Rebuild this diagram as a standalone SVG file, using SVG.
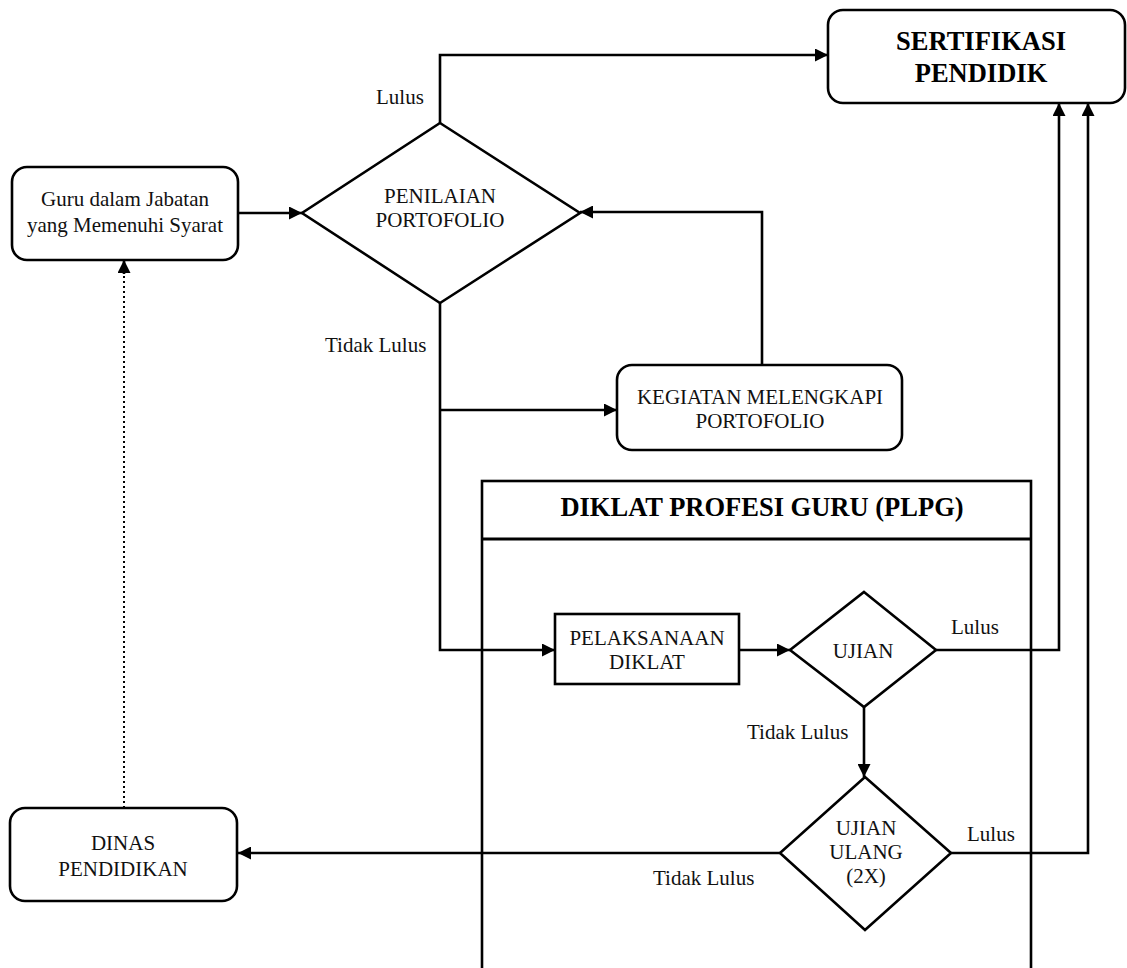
<svg xmlns="http://www.w3.org/2000/svg" width="1127" height="968" viewBox="0 0 1127 968">
<defs>
<marker id="arr" markerUnits="userSpaceOnUse" markerWidth="14" markerHeight="13" refX="13" refY="6.5" orient="auto">
<path d="M0,0 L13,6.5 L0,13 z" fill="#000"/>
</marker>
<style>
.box{fill:#fff;stroke:#000;stroke-width:2.6}
.t{font-family:"Liberation Serif","Times New Roman",serif;font-size:21px;fill:#111;text-anchor:middle}
.tb{font-family:"Liberation Serif","Times New Roman",serif;font-size:26.5px;font-weight:bold;fill:#000;text-anchor:middle}
.lbl{font-family:"Liberation Serif","Times New Roman",serif;font-size:21px;fill:#111}
.c{fill:none;stroke:#000;stroke-width:2.6}
.ca{fill:none;stroke:#000;stroke-width:2.6;marker-end:url(#arr)}
</style>
</defs>
<rect width="1127" height="968" fill="#fff"/>

<g id="plpg">
<rect class="box" x="482" y="481" width="549" height="520" stroke-width="3"/>
<line x1="482" y1="539" x2="1031" y2="539" stroke="#000" stroke-width="3"/>
<text class="tb" x="762" y="516">DIKLAT PROFESI GURU (PLPG)</text>
</g>

<g id="connectors">
<path class="ca" d="M238,213 L302,213"/>
<path class="ca" d="M440,123 L440,55 L828,55"/>
<path class="ca" d="M440,303 L440,650 L555,650"/>
<path class="ca" d="M440,410 L617,410"/>
<path class="ca" d="M762,365 L762,212 L580,212"/>
<path class="ca" d="M739,650 L790,650"/>
<path class="ca" d="M936,650 L1059,650 L1059,103"/>
<path class="ca" d="M864,707 L864,777"/>
<path class="ca" d="M951,853 L1088,853 L1088,103"/>
<path class="ca" d="M780,853 L238,853"/>
<path fill="none" stroke="#000" stroke-width="2" stroke-dasharray="2,3" d="M124,808 L124,272"/>
<path class="ca" d="M124,274 L124,260" stroke-width="0.1"/>
<text class="lbl" x="376" y="104">Lulus</text>
<text class="lbl" x="325" y="352">Tidak Lulus</text>
<text class="lbl" x="951" y="634">Lulus</text>
<text class="lbl" x="747" y="739">Tidak Lulus</text>
<text class="lbl" x="967" y="841">Lulus</text>
<text class="lbl" x="653" y="885">Tidak Lulus</text>
</g>

<g id="sertifikasi">
<rect class="box" x="828" y="10" width="297" height="93" rx="15"/>
<text class="tb" x="981" y="50">SERTIFIKASI</text>
<text class="tb" x="981" y="82">PENDIDIK</text>
</g>

<g id="guru">
<rect class="box" x="12" y="167" width="226" height="93" rx="15"/>
<text class="t" x="125" y="206">Guru dalam Jabatan</text>
<text class="t" x="125" y="232">yang Memenuhi Syarat</text>
</g>

<g id="penilaian">
<polygon class="box" points="440,123 580,213 440,303 302,213"/>
<text class="t" x="440" y="203">PENILAIAN</text>
<text class="t" x="440" y="227">PORTOFOLIO</text>
</g>

<g id="kegiatan">
<rect class="box" x="617" y="365" width="285" height="85" rx="15"/>
<text class="t" x="760" y="404">KEGIATAN MELENGKAPI</text>
<text class="t" x="760" y="428">PORTOFOLIO</text>
</g>

<g id="pelaksanaan">
<rect class="box" x="555" y="614" width="184" height="70"/>
<text class="t" x="647" y="645">PELAKSANAAN</text>
<text class="t" x="647" y="669">DIKLAT</text>
</g>

<g id="ujian">
<polygon class="box" points="864,592 936,650 864,707 790,650"/>
<text class="t" x="863" y="658">UJIAN</text>
</g>

<g id="ujian-ulang">
<polygon class="box" points="865,777 951,853 865,930 780,853"/>
<text class="t" x="866" y="835">UJIAN</text>
<text class="t" x="866" y="859">ULANG</text>
<text class="t" x="866" y="883">(2X)</text>
</g>

<g id="dinas">
<rect class="box" x="10" y="808" width="227" height="93" rx="15"/>
<text class="t" x="123" y="850">DINAS</text>
<text class="t" x="123" y="876">PENDIDIKAN</text>
</g>
</svg>
